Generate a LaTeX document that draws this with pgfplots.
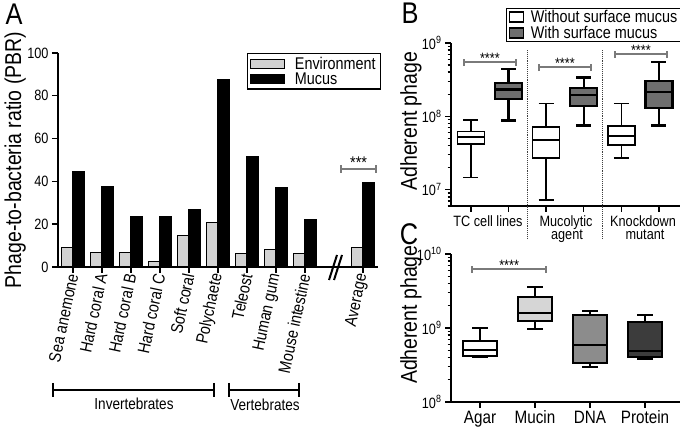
\documentclass[border=0pt]{standalone}
\usepackage{fontspec}
\setmainfont{Liberation Sans}[FakeStretch=0.85]
\usepackage{pgfplots}
\usepackage{pgfplotstable}
\pgfplotsset{compat=1.18}
\newcommand{\fs}[2]{\fontsize{#1}{#2}\selectfont}
\definecolor{envgray}{HTML}{D2D2D2}
\definecolor{bdark}{HTML}{6E6E6E}
\definecolor{cmucin}{HTML}{D6D6D6}
\definecolor{cdna}{HTML}{8C8C8C}
\definecolor{cprot}{HTML}{3C3C3C}
\definecolor{sig}{HTML}{7A7A7A}
\pgfplotsset{
  myaxis/.style={
    scale only axis, axis lines=left, axis line style={-, line width=1.6bp},
    tick align=outside, major tick length=6bp, minor tick length=3.5bp,
    every tick/.style={black, line width=1.4bp},
    enlargelimits=false, clip=false,
    tick label style={font=\fs{15}{15}},
  }
}
% box: #1 position, #2 lower whisker, #3 lower quartile, #4 median, #5 upper quartile, #6 upper whisker, #7 fill colour, #8 line width
\newcommand{\bx}[8]{%
  \pgfmathsetmacro\bxXl{#1-\bw}\pgfmathsetmacro\bxXr{#1+\bw}%
  \pgfmathsetmacro\bxCl{#1-\cw}\pgfmathsetmacro\bxCr{#1+\cw}%
  \edef\bxtmp{%
  \noexpand\addplot[draw=black, line width=#8, forget plot] coordinates {(#1,#2)(#1,#3)};
  \noexpand\addplot[draw=black, line width=#8, forget plot] coordinates {(#1,#5)(#1,#6)};
  \noexpand\addplot[draw=black, line width=#8, forget plot] coordinates {(\bxCl,#2)(\bxCr,#2)};
  \noexpand\addplot[draw=black, line width=#8, forget plot] coordinates {(\bxCl,#6)(\bxCr,#6)};
  \noexpand\addplot[draw=black, fill=#7, line width=#8, forget plot] coordinates {(\bxXl,#3)(\bxXr,#3)(\bxXr,#5)(\bxXl,#5)} -- cycle;
  \noexpand\addplot[draw=black, line width=#8, forget plot] coordinates {(\bxXl,#4)(\bxXr,#4)};
  }\bxtmp}
\pgfplotstableread{
x env muc
0 9.2 44.5
1 7.0 37.5
2 7.0 23.8
3 2.7 23.8
4 14.5 27.0
5 20.9 87.5
6 6.5 51.5
7 8.2 37.0
8 6.3 22.0
10 9.3 39.3
}\dataA
\begin{document}
\begin{tikzpicture}
\useasboundingbox (0,0) rectangle (680bp,427bp);
% ---------------- Panel A
\begin{axis}[myaxis, at={(58bp,160bp)}, anchor=south west, width=320bp, height=214bp,
  xmin=-0.517, xmax=10.52, ymin=0, ymax=100,
  ytick={0,20,40,60,80,100}, yticklabels={0,20,40,60,80,100},
  xtick={0,1,2,3,4,5,6,7,8,10},
  xticklabels={Sea anemone,Hard coral A,Hard coral B,Hard coral C,Soft coral,Polychaete,Teleost,Human gum,Mouse intestine,Average},
  xticklabel style={rotate=78, anchor=east, font=\fs{17}{17}, inner sep=1bp},
  ylabel={Phage-to-bacteria ratio (PBR)},
  every axis y label/.style={at={(axis description cs:-0.134,0.5)}, rotate=90, anchor=center, font=\fs{23}{23}},
  legend style={at={(axis description cs:0.59,1)}, anchor=north west, draw=black, line width=1.2bp,
    font=\fs{17}{17}, inner xsep=3bp, inner ysep=2bp, row sep=-0.5bp, column sep=8bp,
    nodes={inner sep=1.5bp, text height=12bp, text depth=1bp}},
  legend cell align=left,
]
\addplot[ybar, bar width=11.5bp, bar shift=-5.75bp, fill=envgray, draw=black, line width=1bp,
  legend image code/.code={\draw[draw=black, fill=envgray, line width=1bp] (0bp,-4.5bp) rectangle (34bp,4.5bp);}]
  table[x=x,y=env]{\dataA};
\addlegendentry{Environment}
\addplot[ybar, bar width=11.5bp, bar shift=5.75bp, fill=black, draw=black, line width=1bp,
  legend image code/.code={\draw[draw=black, fill=black, line width=1bp] (0bp,-4.5bp) rectangle (34bp,4.5bp);}]
  table[x=x,y=muc]{\dataA};
\addlegendentry{Mucus}
\draw[sig, line width=1.5bp] (axis cs:9.24,45.8) -- (axis cs:10.45,45.8);
\draw[sig, line width=1.5bp] ([yshift=-4bp]axis cs:9.24,45.8) -- ([yshift=4bp]axis cs:9.24,45.8);
\draw[sig, line width=1.5bp] ([yshift=-4bp]axis cs:10.45,45.8) -- ([yshift=4bp]axis cs:10.45,45.8);
\node[anchor=base, font=\fs{17}{17}, inner sep=0pt] at (axis cs:9.85,45.8) {***};
\end{axis}
% break marks
\draw[line width=2bp] (329bp,147bp) -- (337bp,172bp);
\draw[line width=2bp] (334bp,147bp) -- (342bp,172bp);
% group brackets
\draw[line width=1.5bp] (53bp,37bp) -- (214bp,37bp);
\draw[line width=1.5bp] (53bp,44bp) -- (53bp,30bp);
\draw[line width=1.5bp] (214bp,44bp) -- (214bp,30bp);
\draw[line width=1.5bp] (229bp,37bp) -- (299bp,37bp);
\draw[line width=1.5bp] (229bp,44bp) -- (229bp,30bp);
\draw[line width=1.5bp] (299bp,44bp) -- (299bp,30bp);
\node[font=\fs{16}{16}, inner sep=0pt] at (134bp,23bp) {Invertebrates};
\node[font=\fs{16}{16}, inner sep=0pt] at (265bp,22bp) {Vertebrates};
\node[font=\fs{30}{30}, inner sep=0pt] at (14bp,413bp) {A};
\node[font=\fs{30}{30}, inner sep=0pt] at (410bp,414bp) {B};
\node[font=\fs{30}{30}, inner sep=0pt] at (409bp,193bp) {C};
% B group labels
\node[font=\fs{15}{15}, inner sep=0pt, anchor=base] at (488bp,200bp) {TC cell lines};
\node[font=\fs{15}{15}, inner sep=0pt, anchor=base] at (566bp,200bp) {Mucolytic};
\node[font=\fs{15}{15}, inner sep=0pt, anchor=base] at (567bp,187bp) {agent};
\node[font=\fs{15}{15}, inner sep=0pt, anchor=base] at (643bp,200bp) {Knockdown};
\node[font=\fs{15}{15}, inner sep=0pt, anchor=base] at (645bp,187bp) {mutant};
% ---------------- Panel B
\def\bw{0.36}\def\cw{0.2}
\begin{axis}[myaxis, at={(451bp,221bp)}, anchor=south west, width=229bp, height=163bp,
  ymode=log, xmin=-0.53, xmax=5.56, ymin=6e6, ymax=1e9,
  ytick={1e7,1e8,1e9}, yticklabels={10\textsuperscript{7},10\textsuperscript{8},10\textsuperscript{9}},
  minor ytick={6e6,7e6,8e6,9e6,2e7,3e7,4e7,5e7,6e7,7e7,8e7,9e7,2e8,3e8,4e8,5e8,6e8,7e8,8e8,9e8},
  xtick={0,1,2,3,4,5}, xticklabels={,,,,,},
  ylabel={Adherent phage},
  every axis y label/.style={at={(axis description cs:-0.175,0.52)}, rotate=90, anchor=center, font=\fs{23}{23}},
  legend style={at={(axis description cs:0.24,1.215)}, anchor=north west, draw=black, line width=1.2bp,
    font=\fs{17}{17}, inner xsep=2bp, inner ysep=2bp, row sep=3bp, column sep=6bp,
    nodes={inner sep=1bp, text height=11bp, text depth=0bp}},
  legend cell align=left,
]
\addplot[draw=none, legend image code/.code={\draw[draw=black, fill=white, line width=1.3bp] (0bp,-5bp) rectangle (14bp,5bp);}] coordinates {(0,1e8)};
\addlegendentry{Without surface mucus}
\addplot[draw=none, legend image code/.code={\draw[draw=black, fill=bdark, line width=1.3bp] (0bp,-5bp) rectangle (14bp,5bp);}] coordinates {(0,1e8)};
\addlegendentry{With surface mucus}
\bx{0}{1.47e7}{4.2e7}{5.2e7}{6.2e7}{9.0e7}{white}{1.6bp}
\bx{1}{8.8e7}{1.71e8}{2.32e8}{2.86e8}{4.4e8}{bdark}{2.2bp}
\bx{2}{7.3e6}{2.69e7}{4.8e7}{7.1e7}{1.49e8}{white}{1.6bp}
\bx{3}{7.5e7}{1.37e8}{1.94e8}{2.44e8}{3.39e8}{bdark}{2.2bp}
\bx{4}{2.69e7}{4.1e7}{5.37e7}{7.4e7}{1.49e8}{white}{1.6bp}
\bx{5}{7.5e7}{1.3e8}{2.15e8}{3.0e8}{5.5e8}{bdark}{2.2bp}
\draw[densely dotted, line width=0.9bp, black!75] (axis cs:1.5,8e8) -- (axis cs:1.5,2.2e6);
\draw[densely dotted, line width=0.9bp, black!75] (axis cs:3.5,8e8) -- (axis cs:3.5,2.2e6);
\draw[sig, line width=1.5bp] (axis cs:-0.19,5.5e8) -- (axis cs:1.2,5.5e8);
\draw[sig, line width=1.5bp] ([yshift=-4bp]axis cs:-0.19,5.5e8) -- ([yshift=3bp]axis cs:-0.19,5.5e8);
\draw[sig, line width=1.5bp] ([yshift=-4bp]axis cs:1.2,5.5e8) -- ([yshift=3bp]axis cs:1.2,5.5e8);
\draw[sig, line width=1.5bp] (axis cs:1.81,4.7e8) -- (axis cs:3.19,4.7e8);
\draw[sig, line width=1.5bp] ([yshift=-4bp]axis cs:1.81,4.7e8) -- ([yshift=3bp]axis cs:1.81,4.7e8);
\draw[sig, line width=1.5bp] ([yshift=-4bp]axis cs:3.19,4.7e8) -- ([yshift=3bp]axis cs:3.19,4.7e8);
\draw[sig, line width=1.5bp] (axis cs:3.83,7.1e8) -- (axis cs:5.21,7.1e8);
\draw[sig, line width=1.5bp] ([yshift=-4bp]axis cs:3.83,7.1e8) -- ([yshift=3bp]axis cs:3.83,7.1e8);
\draw[sig, line width=1.5bp] ([yshift=-4bp]axis cs:5.21,7.1e8) -- ([yshift=3bp]axis cs:5.21,7.1e8);
\node[anchor=base, font=\fs{15}{15}, inner sep=0pt, yshift=-1.5bp] at (axis cs:0.505,5.5e8) {****};
\node[anchor=base, font=\fs{15}{15}, inner sep=0pt, yshift=-1.5bp] at (axis cs:2.5,4.7e8) {****};
\node[anchor=base, font=\fs{15}{15}, inner sep=0pt, yshift=-1.5bp] at (axis cs:4.52,7.1e8) {****};
\end{axis}
% ---------------- Panel C
\def\bw{0.31}\def\cw{0.14}
\begin{axis}[myaxis, at={(451bp,25bp)}, anchor=south west, width=229bp, height=148bp,
  ymode=log, xmin=-0.527, xmax=3.636, ymin=1e8, ymax=1e10,
  ytick={1e8,1e9,1e10}, yticklabels={10\textsuperscript{8},10\textsuperscript{9},10\textsuperscript{10}},
  minor ytick={2e8,3e8,4e8,5e8,6e8,7e8,8e8,9e8,2e9,3e9,4e9,5e9,6e9,7e9,8e9,9e9},
  xtick={0,1,2,3}, xticklabels={Agar,Mucin,DNA,Protein},
  xticklabel style={font=\fs{18}{18}, inner sep=2.5bp},
  ylabel={Adherent phage},
  every axis y label/.style={at={(axis description cs:-0.175,0.59)}, rotate=90, anchor=center, font=\fs{23}{23}},
]
\bx{0}{4.1e8}{4.2e8}{5.0e8}{6.7e8}{1.0e9}{white}{2.2bp}
\bx{1}{9.7e8}{1.24e9}{1.6e9}{2.6e9}{3.6e9}{cmucin}{2.2bp}
\bx{2}{3.0e8}{3.4e8}{5.9e8}{1.5e9}{1.7e9}{cdna}{2.2bp}
\bx{3}{3.8e8}{4.1e8}{4.9e8}{1.2e9}{1.5e9}{cprot}{2.2bp}
\draw[sig, line width=1.5bp] (axis cs:-0.145,6.3e9) -- (axis cs:1.2,6.3e9);
\draw[sig, line width=1.5bp] ([yshift=-4bp]axis cs:-0.145,6.3e9) -- ([yshift=3bp]axis cs:-0.145,6.3e9);
\draw[sig, line width=1.5bp] ([yshift=-4bp]axis cs:1.2,6.3e9) -- ([yshift=3bp]axis cs:1.2,6.3e9);
\node[anchor=base, font=\fs{15}{15}, inner sep=0pt, yshift=-1.5bp] at (axis cs:0.53,6.3e9) {****};
\end{axis}
\end{tikzpicture}
\end{document}
